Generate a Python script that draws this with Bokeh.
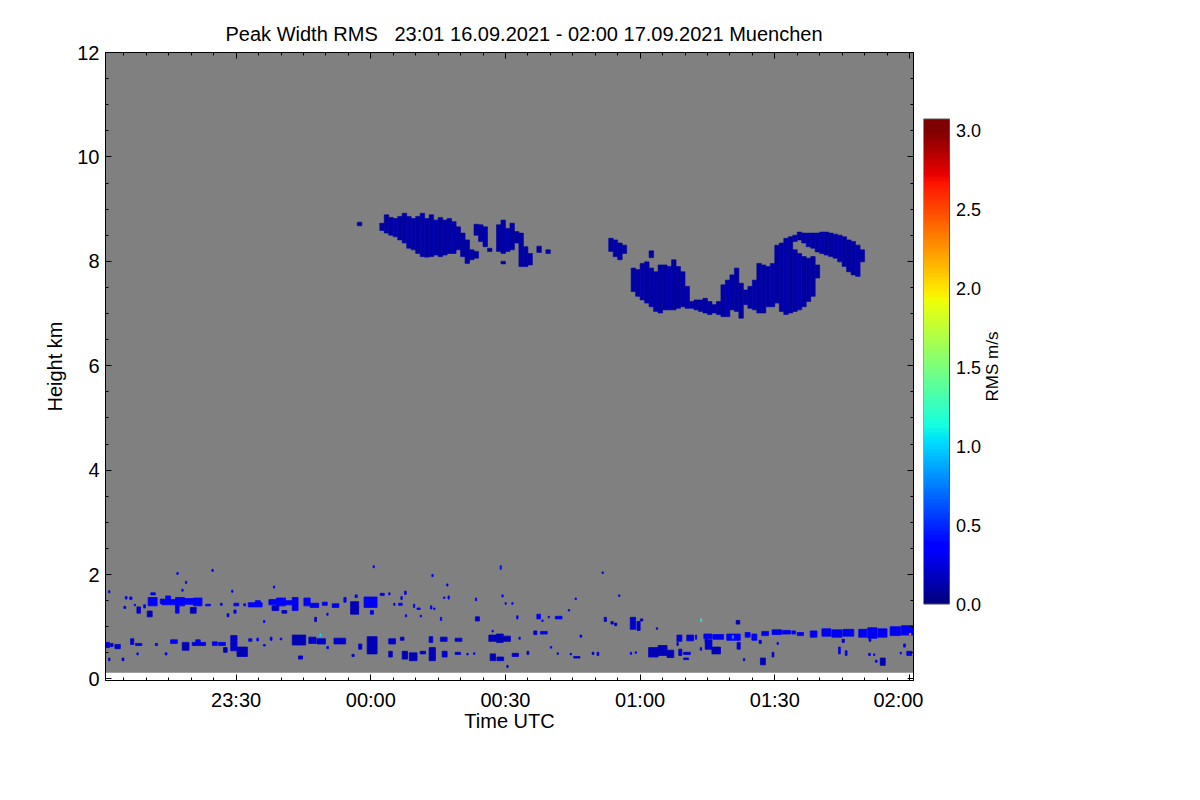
import numpy as np
from bokeh.plotting import figure
from bokeh.models import (Range1d, FixedTicker, LinearAxis, LinearColorMapper,
                          ColumnDataSource, CustomJSTickFormatter)
from bokeh.core.properties import value
from bokeh.layouts import row
from bokeh.embed import file_html
from bokeh.resources import INLINE

# ---------------- text / axes ----------------
title_text = "Peak Width RMS \u00a0 23:01 16.09.2021 - 02:00 17.09.2021 Muenchen"
x_label = "Time UTC"
y_label = "Height km"
cbar_label = "RMS m/s"

# time axis: minutes after 23:00 UTC 16.09.2021
time_start, time_end = 0.9, 180.9
x_tick_minutes = [30, 60, 90, 120, 150, 180]
x_tick_labels = ["23:30", "00:00", "00:30", "01:00", "01:30", "02:00"]
x_minor_minutes = list(range(5, 181, 5))
y_ticks = [0, 2, 4, 6, 8, 10, 12]
y_minor = [i * 0.5 for i in range(0, 25)]
cbar_ticks = [0.0, 0.5, 1.0, 1.5, 2.0, 2.5, 3.0]
cbar_tick_labels = ["0.0", "0.5", "1.0", "1.5", "2.0", "2.5", "3.0"]
rms_low, rms_high = 0.0, 3.0
cbar_top = 3.07

# radar range gates with data (grey = no signal)
gate_bottom, gate_top = 0.12, 12.0

# ---------------- cirrus cloud 1 : (minute, base km, top km, rms) ----------------
cloud1_columns = [
    (57, 8.68, 8.75, 0.10), (62, 8.59, 8.73, 0.10), (63, 8.54, 8.89, 0.10),
    (64, 8.50, 8.84, 0.10), (65, 8.47, 8.82, 0.12), (66, 8.41, 8.86, 0.10),
    (67, 8.35, 8.92, 0.10), (68, 8.25, 8.86, 0.12), (69, 8.22, 8.82, 0.10),
    (70, 8.15, 8.86, 0.10), (71, 8.09, 8.92, 0.12), (72, 8.08, 8.82, 0.10),
    (73, 8.09, 8.89, 0.10), (74, 8.12, 8.79, 0.12), (75, 8.09, 8.84, 0.10),
    (76, 8.12, 8.79, 0.10), (77, 8.15, 8.82, 0.10), (78, 8.15, 8.76, 0.12),
    (79, 8.22, 8.66, 0.10), (80, 8.09, 8.54, 0.10), (81, 7.96, 8.41, 0.10),
    (82, 8.03, 8.22, 0.10), (83, 8.50, 8.71, 0.10), (83, 8.06, 8.19, 0.10),
    (84, 8.38, 8.70, 0.10), (85, 8.28, 8.66, 0.12), (86, 8.19, 8.25, 0.10),
    (88, 8.19, 8.70, 0.10), (89, 8.15, 8.79, 0.10), (89, 7.95, 8.00, 0.10),
    (90, 8.19, 8.63, 0.12), (91, 8.22, 8.73, 0.10), (92, 8.35, 8.57, 0.10),
    (93, 7.90, 8.54, 0.10), (94, 7.90, 8.28, 0.10), (95, 7.93, 8.15, 0.10),
    (97, 8.17, 8.29, 0.10), (99, 8.15, 8.22, 0.10),
]

# ---------------- cirrus cloud 2 : (minute, base km, top km, rms) ----------------
cloud2_columns = [
    (113, 8.19, 8.44, 0.10), (114, 8.09, 8.41, 0.10), (115, 8.03, 8.35, 0.10),
    (116, 8.15, 8.31, 0.10), (118, 7.42, 7.87, 0.10), (119, 7.33, 7.84, 0.10),
    (120, 7.26, 7.96, 0.12), (121, 7.20, 7.99, 0.10), (122, 7.13, 7.87, 0.10),
    (122, 8.07, 8.20, 0.10), (123, 7.04, 7.80, 0.12), (124, 7.01, 7.93, 0.10),
    (125, 7.07, 7.93, 0.10), (126, 7.07, 7.90, 0.12), (127, 7.07, 8.03, 0.10),
    (128, 7.10, 7.90, 0.10), (129, 7.13, 7.80, 0.10), (130, 7.10, 7.52, 0.12),
    (131, 7.10, 7.23, 0.10), (132, 7.07, 7.26, 0.10), (133, 7.04, 7.26, 0.10),
    (134, 7.01, 7.29, 0.10), (135, 6.98, 7.23, 0.10), (136, 7.01, 7.17, 0.10),
    (137, 6.98, 7.23, 0.10), (138, 6.94, 7.55, 0.10), (139, 6.94, 7.64, 0.12),
    (140, 7.07, 7.74, 0.10), (141, 7.04, 7.87, 0.10), (142, 6.91, 7.58, 0.10),
    (143, 7.17, 7.45, 0.10), (144, 7.10, 7.52, 0.10), (145, 7.07, 7.64, 0.12),
    (146, 7.01, 7.96, 0.10), (147, 7.01, 7.93, 0.10), (148, 7.13, 7.90, 0.10),
    (149, 7.13, 7.96, 0.12), (150, 7.20, 8.31, 0.10), (151, 7.04, 8.35, 0.10),
    (152, 6.98, 8.44, 0.12), (153, 7.01, 8.47, 0.10), (154, 7.04, 8.22, 0.10),
    (154, 8.38, 8.50, 0.10), (155, 7.07, 8.15, 0.12), (155, 8.41, 8.56, 0.10),
    (156, 7.13, 8.09, 0.10), (156, 8.35, 8.54, 0.10), (157, 7.23, 8.06, 0.10),
    (157, 8.28, 8.54, 0.12), (158, 7.33, 8.09, 0.10), (158, 8.25, 8.54, 0.10),
    (159, 7.68, 7.93, 0.10), (159, 8.18, 8.54, 0.10), (160, 8.15, 8.56, 0.12),
    (161, 8.12, 8.56, 0.10), (162, 8.09, 8.54, 0.10), (163, 8.06, 8.52, 0.10),
    (164, 7.99, 8.50, 0.12), (165, 7.90, 8.47, 0.10), (166, 7.80, 8.41, 0.10),
    (167, 7.74, 8.38, 0.10), (168, 7.71, 8.31, 0.12), (169, 7.99, 8.22, 0.10),
]

# ---------------- boundary-layer echoes : (start min, end min, base km, top km, rms) ----
echo_upper_layer = [
    (1.6, 1.9, 1.65, 1.69, 0.30), (5.3, 5.7, 1.53, 1.58, 0.35), (6.3, 6.8, 1.52, 1.57, 0.35),
    (5.0, 5.4, 1.35, 1.39, 0.20), (7.3, 7.6, 1.40, 1.43, 0.30), (7.9, 8.7, 1.26, 1.38, 0.20),
    (9.4, 9.8, 1.36, 1.42, 0.30), (10.2, 11.3, 1.19, 1.30, 0.15), (10.4, 12.4, 1.40, 1.56, 0.32),
    (11.0, 12.0, 1.61, 1.65, 0.30), (13.1, 13.9, 1.44, 1.53, 0.30), (14.3, 15.4, 1.50, 1.59, 0.35),
    (13.5, 16.5, 1.42, 1.52, 0.32), (16.5, 18.5, 1.40, 1.56, 0.35), (18.5, 20.5, 1.43, 1.54, 0.32),
    (20.5, 22.4, 1.40, 1.55, 0.35), (16.5, 17.3, 1.26, 1.40, 0.30), (19.8, 21.1, 1.26, 1.37, 0.15),
    (23.2, 24.3, 1.40, 1.43, 0.30), (26.5, 26.9, 1.41, 1.45, 0.30), (28.0, 28.4, 1.19, 1.25, 0.20),
    (29.5, 30.0, 1.26, 1.32, 0.20), (29.5, 30.6, 1.40, 1.45, 0.32), (31.7, 32.1, 1.40, 1.44, 0.30),
    (32.7, 35.8, 1.38, 1.46, 0.32), (34.3, 35.4, 1.46, 1.50, 0.32), (36.1, 36.4, 1.08, 1.12, 0.30),
    (37.3, 39.0, 1.42, 1.52, 0.32), (39.0, 41.0, 1.40, 1.55, 0.35), (41.0, 42.5, 1.42, 1.50, 0.32),
    (38.0, 39.5, 1.31, 1.40, 0.20), (40.2, 41.3, 1.26, 1.31, 0.20), (42.5, 43.8, 1.31, 1.56, 0.30),
    (45.1, 46.5, 1.40, 1.55, 0.32), (46.5, 48.4, 1.37, 1.45, 0.30), (47.5, 47.9, 1.10, 1.18, 0.20),
    (49.2, 50.3, 1.41, 1.47, 0.30), (50.2, 50.5, 1.22, 1.26, 0.30), (51.4, 52.9, 1.37, 1.44, 0.30),
    (54.0, 54.5, 1.47, 1.56, 0.30), (55.5, 57.3, 1.24, 1.48, 0.15), (56.5, 57.0, 1.56, 1.61, 0.30),
    (58.5, 61.4, 1.37, 1.57, 0.30), (59.9, 60.6, 1.24, 1.31, 0.30),
]

echo_lower_layer = [
    (0.9, 1.8, 0.60, 0.70, 0.20), (2.0, 2.6, 0.62, 0.68, 0.20), (3.0, 4.2, 0.58, 0.66, 0.20),
    (1.6, 1.9, 0.35, 0.40, 0.20), (4.6, 5.0, 0.35, 0.40, 0.20), (6.5, 7.2, 0.66, 0.77, 0.20),
    (7.6, 9.0, 0.64, 0.68, 0.25), (7.9, 8.2, 0.46, 0.50, 0.30), (12.0, 12.5, 0.64, 0.68, 0.30),
    (14.2, 14.6, 0.46, 0.50, 0.30), (15.4, 16.9, 0.68, 0.75, 0.35), (18.0, 19.5, 0.55, 0.70, 0.15),
    (20.2, 23.2, 0.64, 0.70, 0.25), (21.0, 22.0, 0.70, 0.75, 0.30), (24.7, 25.8, 0.64, 0.71, 0.32),
    (26.1, 27.6, 0.64, 0.70, 0.30), (27.2, 28.0, 0.51, 0.60, 0.15), (28.8, 30.2, 0.54, 0.83, 0.20),
    (30.2, 32.5, 0.43, 0.61, 0.15), (32.8, 33.5, 0.72, 0.77, 0.30), (34.6, 35.0, 0.73, 0.78, 0.30),
    (36.1, 36.5, 0.63, 0.66, 0.30), (37.6, 38.0, 0.74, 0.80, 0.30), (39.8, 40.2, 0.75, 0.78, 0.30),
    (42.5, 45.5, 0.65, 0.84, 0.15), (43.9, 44.8, 0.38, 0.44, 0.20), (46.2, 47.8, 0.68, 0.80, 0.20),
    (48.0, 49.9, 0.67, 0.77, 0.20), (48.7, 48.9, 0.82, 0.86, 1.05), (50.2, 50.6, 0.58, 0.62, 0.30),
    (51.8, 54.4, 0.67, 0.78, 0.20), (55.8, 56.3, 0.43, 0.47, 0.20), (57.3, 58.0, 0.57, 0.67, 0.20),
    (59.2, 61.4, 0.48, 0.81, 0.15), (64.0, 65.5, 0.67, 0.77, 0.20), (66.6, 67.4, 0.74, 0.80, 0.20),
    (73.0, 73.8, 0.70, 0.81, 0.20), (75.5, 77.0, 0.72, 0.80, 0.20), (78.8, 80.3, 0.72, 0.78, 0.20),
    (86.3, 88.0, 0.72, 0.84, 0.15), (88.0, 89.5, 0.70, 0.86, 0.15), (89.5, 91.1, 0.72, 0.82, 0.15),
    (87.0, 87.3, 0.90, 0.93, 0.30), (93.0, 93.3, 0.76, 0.80, 0.30), (64.0, 64.8, 0.42, 0.53, 0.15),
    (67.0, 68.2, 0.38, 0.53, 0.15), (68.6, 70.3, 0.35, 0.50, 0.15), (71.0, 72.2, 0.48, 0.53, 0.20),
    (73.0, 74.4, 0.35, 0.60, 0.15), (75.9, 77.0, 0.42, 0.53, 0.20), (78.8, 80.0, 0.47, 0.51, 0.20),
    (81.4, 81.7, 0.46, 0.49, 0.30), (82.9, 83.2, 0.47, 0.50, 0.30), (86.6, 87.8, 0.35, 0.48, 0.15),
    (88.1, 89.6, 0.35, 0.42, 0.20), (90.3, 90.6, 0.22, 0.26, 0.20), (91.5, 92.9, 0.43, 0.49, 0.20),
    (94.8, 95.2, 0.47, 0.53, 0.20), (100.0, 100.3, 0.59, 0.62, 0.30), (101.5, 101.8, 0.47, 0.50, 0.30),
    (104.4, 104.7, 0.46, 0.49, 0.30), (105.2, 106.6, 0.40, 0.43, 0.20), (109.3, 109.7, 0.47, 0.51, 0.20),
    (110.4, 110.8, 0.45, 0.51, 0.30), (117.8, 118.1, 0.47, 0.51, 0.30), (118.9, 119.2, 0.49, 0.52, 0.30),
]

echo_scattered = [
    (24.6, 24.9, 2.06, 2.10, 0.30), (16.8, 17.1, 2.00, 2.04, 0.35), (18.7, 19.0, 1.83, 1.87, 0.30),
    (17.9, 18.2, 1.68, 1.72, 0.30), (38.3, 38.6, 1.74, 1.78, 0.30), (29.0, 29.3, 1.66, 1.70, 0.30),
    (60.5, 60.8, 2.13, 2.17, 0.40), (62.1, 63.0, 1.60, 1.64, 0.30), (64.0, 64.3, 1.61, 1.65, 0.30),
    (65.1, 65.4, 1.41, 1.45, 0.30), (66.2, 67.0, 1.41, 1.45, 0.32), (66.7, 67.0, 1.52, 1.58, 0.30),
    (67.5, 67.9, 1.62, 1.68, 0.30), (67.7, 68.0, 1.19, 1.23, 0.30), (69.5, 69.8, 1.37, 1.43, 0.30),
    (70.3, 71.0, 1.33, 1.36, 0.30), (71.0, 71.3, 1.19, 1.22, 0.30), (73.3, 73.6, 1.34, 1.40, 0.30),
    (74.0, 74.3, 1.33, 1.36, 0.30), (73.6, 73.9, 1.96, 2.00, 0.32), (75.5, 75.8, 1.12, 1.18, 0.35),
    (76.9, 77.2, 1.78, 1.82, 0.30), (77.2, 77.5, 1.53, 1.59, 0.35), (76.2, 76.5, 1.54, 1.57, 0.30),
    (83.3, 83.6, 1.50, 1.55, 0.30), (83.3, 84.2, 1.11, 1.19, 0.20), (88.8, 89.1, 2.10, 2.17, 0.45),
    (89.2, 89.5, 1.57, 1.61, 0.30), (89.9, 90.2, 1.43, 1.46, 0.30), (91.4, 91.7, 1.43, 1.46, 0.30),
    (92.5, 92.8, 1.15, 1.21, 0.30), (97.0, 97.8, 1.15, 1.24, 0.30), (98.1, 98.4, 1.10, 1.13, 0.30),
    (99.5, 99.8, 1.17, 1.20, 0.30), (101.1, 102.6, 1.15, 1.20, 0.30), (104.0, 104.3, 1.30, 1.33, 0.30),
    (105.5, 105.8, 1.52, 1.55, 0.30), (111.5, 111.8, 2.02, 2.05, 0.30), (115.2, 115.5, 1.58, 1.61, 0.30),
    (112.0, 112.5, 1.10, 1.18, 0.20), (113.5, 114.0, 1.05, 1.10, 0.20), (114.3, 114.8, 1.02, 1.07, 0.20),
    (117.8, 119.0, 0.95, 1.18, 0.20), (119.3, 120.0, 0.93, 1.10, 0.20), (96.3, 97.0, 0.85, 0.92, 0.20),
    (97.8, 99.3, 0.86, 0.91, 0.30), (106.6, 107.0, 0.80, 0.84, 0.30),
]

echo_late_layer = [
    (120.05, 120.6, 1.11, 1.15, 0.15), (133.5, 133.7, 1.10, 1.15, 1.10), (141.4, 142.2, 1.05, 1.12, 0.15),
    (123.6, 123.9, 0.95, 0.98, 0.20), (128.2, 129.3, 0.72, 0.84, 0.25), (130.4, 131.9, 0.73, 0.84, 0.25),
    (132.3, 132.6, 0.76, 0.84, 0.30), (134.2, 136.0, 0.77, 0.86, 0.30), (136.2, 138.6, 0.76, 0.85, 0.30),
    (134.5, 135.0, 0.70, 0.76, 0.20), (139.3, 142.3, 0.74, 0.86, 0.35), (140.5, 140.8, 0.78, 0.83, 0.80),
    (143.4, 144.5, 0.80, 0.89, 0.32), (144.9, 146.0, 0.74, 0.86, 0.30), (147.1, 148.6, 0.83, 0.91, 0.30),
    (149.4, 151.5, 0.85, 0.94, 0.30), (151.7, 153.5, 0.86, 0.93, 0.30), (153.8, 154.6, 0.86, 0.92, 0.30),
    (155.0, 156.4, 0.83, 0.89, 0.30), (157.9, 159.4, 0.80, 0.92, 0.30), (160.5, 162.5, 0.82, 0.96, 0.30),
    (162.7, 165.0, 0.80, 0.94, 0.30), (165.2, 167.6, 0.82, 0.95, 0.30), (168.7, 170.5, 0.80, 0.95, 0.30),
    (170.7, 172.8, 0.78, 0.98, 0.30), (173.0, 175.0, 0.80, 0.96, 0.30), (175.7, 178.0, 0.83, 1.00, 0.30),
    (178.2, 180.9, 0.84, 1.02, 0.30), (180.0, 180.3, 0.84, 0.87, 2.30), (146.5, 147.0, 0.68, 0.74, 0.20),
    (165.0, 165.5, 0.70, 0.76, 0.20), (171.0, 171.4, 0.72, 0.77, 0.20), (121.9, 124.0, 0.42, 0.60, 0.15),
    (124.0, 126.0, 0.45, 0.64, 0.15), (126.0, 127.5, 0.41, 0.55, 0.15), (128.2, 128.5, 0.64, 0.70, 0.20),
    (128.6, 129.3, 0.45, 0.57, 0.20), (129.7, 131.2, 0.47, 0.51, 0.20), (129.7, 130.8, 0.37, 0.40, 0.20),
    (133.4, 133.7, 0.55, 0.60, 0.20), (134.5, 136.0, 0.57, 0.75, 0.20), (136.0, 137.9, 0.48, 0.61, 0.15),
    (141.6, 142.3, 0.57, 0.70, 0.20), (143.0, 143.3, 0.35, 0.39, 0.20), (146.8, 147.9, 0.27, 0.40, 0.15),
    (149.4, 149.8, 0.42, 0.51, 0.20), (150.5, 150.8, 0.66, 0.70, 0.30), (164.2, 164.6, 0.48, 0.61, 0.30),
    (165.7, 166.1, 0.45, 0.54, 0.30), (170.9, 171.3, 0.45, 0.49, 0.30), (172.0, 172.3, 0.45, 0.48, 0.30),
    (172.4, 172.8, 0.32, 0.36, 0.30), (173.5, 174.6, 0.26, 0.40, 0.15), (177.9, 178.2, 0.48, 0.51, 0.30),
    (179.4, 180.5, 0.45, 0.53, 0.30), (178.7, 179.1, 0.61, 0.67, 0.30),
]

# ---------------- style ----------------
FONT = "Liberation Sans"
GREY = "#808080"
FRAME_W, FRAME_H = 808, 628
BORDER_L, BORDER_T = 105, 52
CB_BAR_PX, CB_FRAME_PX = 26, 110


def jet_palette(n=256):
    cols = []
    for i in range(n):
        x = i / (n - 1)
        r = np.interp(x, [0, 0.35, 0.66, 0.89, 1], [0, 0, 1, 1, 0.5])
        g = np.interp(x, [0, 0.125, 0.375, 0.64, 0.91, 1], [0, 0, 1, 1, 0, 0])
        b = np.interp(x, [0, 0.11, 0.34, 0.65, 1], [0.5, 1, 1, 0, 0])
        cols.append("#%02x%02x%02x" % (int(r * 255), int(g * 255), int(b * 255)))
    return cols


mapper = LinearColorMapper(palette=jet_palette(), low=rms_low, high=rms_high)
blank = CustomJSTickFormatter(code="return ''")

# ---------------- main figure ----------------
p = figure(frame_width=FRAME_W, frame_height=FRAME_H,
           x_range=Range1d(time_start, time_end), y_range=Range1d(-0.03, 12.0),
           toolbar_location=None, output_backend="svg",
           min_border_left=BORDER_L, min_border_top=BORDER_T,
           min_border_right=10, min_border_bottom=70)
p.background_fill_color = "white"
p.border_fill_color = "white"
p.grid.visible = False
p.outline_line_color = "black"
p.outline_line_width = 1

# grey no-signal area
p.quad(left=[time_start], right=[time_end], bottom=[gate_bottom], top=[gate_top],
       fill_color=GREY, line_color=None)

cl = cloud1_columns + cloud2_columns
cloud_src = ColumnDataSource(dict(
    left=[c[0] for c in cl], right=[c[0] + 1 for c in cl],
    bottom=[c[1] for c in cl], top=[c[2] for c in cl], rms=[c[3] for c in cl]))
p.quad(left="left", right="right", bottom="bottom", top="top", source=cloud_src,
       fill_color={"field": "rms", "transform": mapper},
       line_color={"field": "rms", "transform": mapper}, line_width=0.6)

ec = echo_upper_layer + echo_lower_layer + echo_scattered + echo_late_layer
echo_src = ColumnDataSource(dict(
    left=[e[0] for e in ec], right=[e[1] for e in ec],
    bottom=[e[2] for e in ec], top=[e[3] for e in ec], rms=[e[4] for e in ec]))
p.quad(left="left", right="right", bottom="bottom", top="top", source=echo_src,
       fill_color={"field": "rms", "transform": mapper},
       line_color={"field": "rms", "transform": mapper}, line_width=0.8)

x_ticker = FixedTicker(ticks=x_tick_minutes, minor_ticks=x_minor_minutes)
y_ticker = FixedTicker(ticks=y_ticks, minor_ticks=y_minor)
x_over = {m: lab for m, lab in zip(x_tick_minutes, x_tick_labels)}


def style_axis(ax, labels=True):
    ax.major_tick_in = 6
    ax.major_tick_out = 0
    ax.minor_tick_in = 3
    ax.minor_tick_out = 0
    ax.axis_line_color = "black"
    ax.major_tick_line_color = "black"
    ax.minor_tick_line_color = "black"
    if labels:
        ax.major_label_text_font = FONT
        ax.major_label_text_font_size = "20px"
        ax.major_label_text_color = "black"
        ax.axis_label_text_font = FONT
        ax.axis_label_text_font_size = "20px"
        ax.axis_label_text_font_style = "normal"
        ax.axis_label_text_color = "black"
    else:
        ax.formatter = blank
        ax.major_label_standoff = 0


xa = p.xaxis[0]
xa.ticker = x_ticker
xa.major_label_overrides = x_over
xa.axis_label = x_label
style_axis(xa)
xa.major_label_standoff = 8
xa.axis_label_standoff = -4

ya = p.yaxis[0]
ya.ticker = y_ticker
ya.axis_label = y_label
style_axis(ya)
ya.major_label_standoff = 6
ya.axis_label_standoff = 8

top_ax = LinearAxis(ticker=x_ticker)
style_axis(top_ax, labels=False)
p.add_layout(top_ax, "above")
right_ax = LinearAxis(ticker=y_ticker)
style_axis(right_ax, labels=False)
p.add_layout(right_ax, "right")

p.title.text = title_text
p.title.text_font = FONT
p.title.text_font_size = "20px"
p.title.text_font_style = "normal"
p.title.text_color = "black"
p.title.align = "left"
p.title.offset = 120
p.title.standoff = 16

# ---------------- colour bar figure (frame aligned with main frame) ----------------
# x unit = bar width; the frame is wide enough to hold tick labels and the title
cb_y0, cb_y1 = -0.484, 3.491
cb_x1 = CB_FRAME_PX / CB_BAR_PX
cb = figure(frame_width=CB_FRAME_PX, frame_height=FRAME_H, x_range=Range1d(0, cb_x1),
            y_range=Range1d(cb_y0, cb_y1),
            y_axis_location=None, x_axis_location=None,
            toolbar_location=None, output_backend="svg",
            min_border_left=0, min_border_top=BORDER_T, min_border_bottom=70,
            min_border_right=10)
cb.grid.visible = False
cb.outline_line_color = None
cb.background_fill_color = "white"
cb.border_fill_color = "white"
ramp = np.linspace(0, cbar_top, 400).reshape(-1, 1)
cb.image(image=[ramp], x=0, y=0, dw=1, dh=cbar_top, color_mapper=mapper)
cb.quad(left=[0], right=[1], bottom=[0], top=[cbar_top], fill_color=None,
        line_color="#555555", line_width=1)
cb.text(x=[1.25] * len(cbar_ticks), y=cbar_ticks, text=cbar_tick_labels,
        text_font=value(FONT), text_font_size="18px", text_color="black",
        text_align="left", text_baseline="middle")
cb.text(x=[2.65], y=[(cb_y0 + cb_y1) / 2], text=[cbar_label], angle=np.pi / 2,
        text_font=value(FONT), text_font_size="17px", text_color="black",
        text_align="center", text_baseline="middle")

layout = row(p, cb)
open("out.html", "w").write(file_html(layout, INLINE))
